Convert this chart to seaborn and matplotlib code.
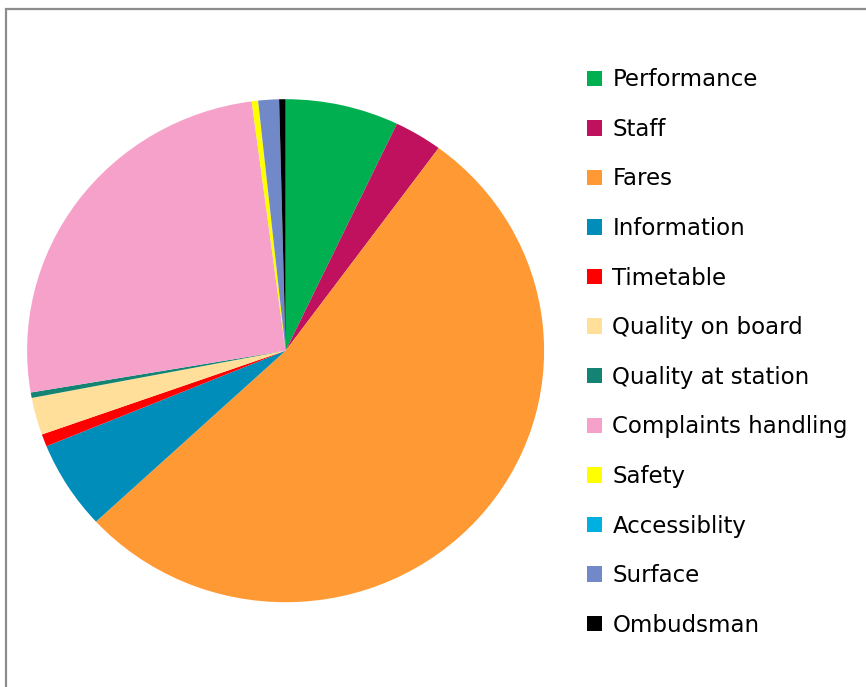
import seaborn as sns
from matplotlib import pyplot as plt
from matplotlib.patches import Rectangle

# complaint categories and their share (%)
categories = ['Performance', 'Staff', 'Fares', 'Information', 'Timetable',
              'Quality on board', 'Quality at station', 'Complaints handling',
              'Safety', 'Accessiblity', 'Surface', 'Ombudsman']
shares = [7.1, 3.0, 53.1, 5.7, 0.8, 2.4, 0.35, 25.6, 0.4, 0.0, 1.3, 0.4]
colors = ['#00B050', '#C0115F', '#FF9933', '#008DB9', '#FF0000', '#FFDF99',
          '#138374', '#F5A1CA', '#FFFF00', '#00B0E0', '#7189C8', '#000000']

sns.set_theme(style="white")
plt.rcParams['font.family'] = ['DejaVu Sans']

W, H = 866, 687
fig = plt.figure(figsize=(W / 100, H / 100), dpi=100)

# outer chart frame (right and bottom edges are cropped in the original)
fig.patches.append(Rectangle((5.5 / W, -0.1), 2.0, 1 - 8.5 / H + 0.1,
                             transform=fig.transFigure, fill=False,
                             edgecolor='#8C8C8C', linewidth=1.6))

# pie: centre ~ (286, 351), rx 258, ry 251 pixels
cx, cy, rx, ry = 285.6, 350.7, 258.5, 251.5
ax = fig.add_axes([(cx - rx) / W, 1 - (cy + ry) / H, 2 * rx / W, 2 * ry / H])
wedges, _ = ax.pie(shares, colors=colors, startangle=90, counterclock=False,
                   radius=1.0, wedgeprops=dict(linewidth=0))
ax.set_aspect('auto')
ax.set_xlim(-1, 1)
ax.set_ylim(-1, 1)
ax.axis('off')

fs = 16.5
fig.legend(wedges, categories, loc='center left',
           bbox_to_anchor=(587 / W, 1 - 352.5 / H), frameon=False,
           fontsize=fs, handlelength=0.66, handleheight=0.66,
           handletextpad=0.45, labelspacing=1.16, borderpad=0,
           borderaxespad=0, labelcolor='black')

plt.savefig('out.png', dpi=100)
